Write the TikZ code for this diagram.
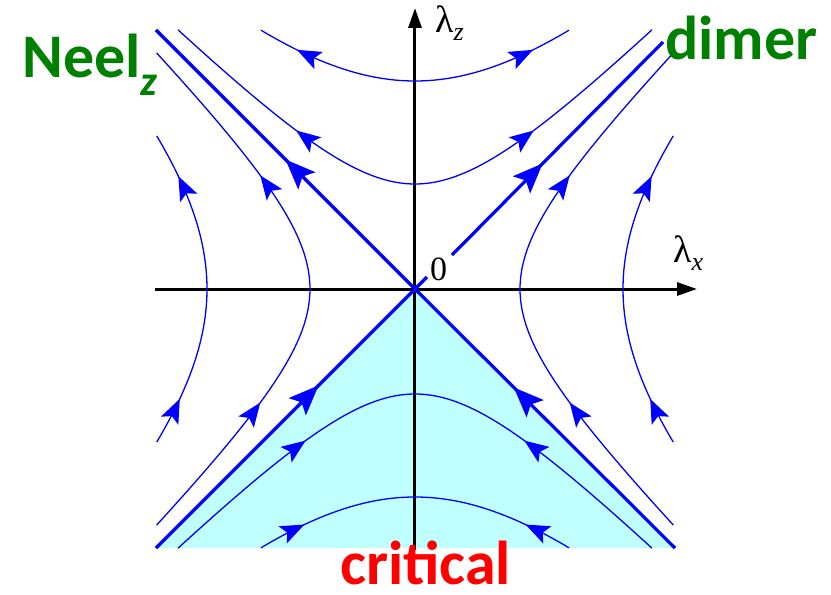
\documentclass[tikz,border=0pt]{standalone}
\usepackage{fontspec}
\newfontfamily\phasefont{Carlito}
\newfontfamily\symbolfont{Liberation Serif}
\usepackage{tikz}
\usetikzlibrary{arrows.meta, decorations.markings}
\definecolor{flowblue}{RGB}{0,0,255}
\definecolor{phasegreen}{RGB}{0,128,0}
\definecolor{critred}{RGB}{255,0,0}
\definecolor{critcyan}{RGB}{192,255,255}
\tikzset{
  % Axes and flow lines
  axisline/.style={line width=3pt, -{Triangle[length=20pt, width=13pt]}},
  flow/.style={draw=flowblue, line width=1.3pt},
  separatrix/.style={draw=flowblue, line width=3.2pt},
  flowtip/.style={postaction={decorate}, decoration={markings,
      mark=at position #1 with {\arrow[flowblue]{Stealth[length=24pt, width=19pt, inset=5pt]}}}},
  flowtips/.style 2 args={postaction={decorate}, decoration={markings,
      mark=at position #1 with {\arrow[flowblue]{Stealth[length=24pt, width=19pt, inset=5pt]}},
      mark=at position #2 with {\arrow[flowblue]{Stealth[length=24pt, width=19pt, inset=5pt]}}}},
  septip/.style={postaction={decorate}, decoration={markings,
      mark=at position #1 with {\arrow[flowblue]{Stealth[length=30pt, width=24pt, inset=6pt]}}}},
  % Labels
  phase/.style={font=\phasefont\bfseries\fontsize{62}{62}\selectfont, anchor=base west, inner sep=0pt},
  axislabel/.style={font=\symbolfont\fontsize{38}{38}\selectfont, anchor=base west, inner sep=0pt},
}

\begin{document}
\begin{tikzpicture}[x=10pt, y=10pt]
    \useasboundingbox (-41.5,-30.6) rectangle (41.6,28.9);

    % Corners of the flow diagram
    \coordinate (O) at (0,0);
    \coordinate (ll) at (-25.9,-25.9);
    \coordinate (lr) at (26,-25.9);
    \coordinate (ul) at (-25.9,25.9);
    \coordinate (urstart) at (3.7,3.4);
    \coordinate (ur) at (24.8,24.7);
    \coordinate (llend) at (1.2,1.2);

    % Critical region
    \fill[critcyan] (O) -- (ll) -- (lr) -- cycle;

    % Axes
    \coordinate (xmin) at (-26,0);
    \coordinate (xmax) at (28.2,0);
    \coordinate (zmin) at (0,-26.1);
    \coordinate (zmax) at (0,28.1);
    \draw[axisline] (xmin) -- (xmax);
    \draw[axisline] (zmin) -- (zmax);

    % Separatrices
    \draw[separatrix, septip=0.5] (O) -- (ul);
    \draw[separatrix, septip=0.43] (urstart) -- (ur);
    \draw[separatrix, septip=0.6] (ll) -- (llend);
    \draw[separatrix, septip=0.62] (lr) -- (O);

    % Upper and lower branches
    \foreach \a/\xm/\pu/\pl in {10.5/23.7/0.46/0.58, 20.8/15.4/0.75/0.30} {
      \draw[flow, flowtip=\pu] plot[domain=0:\xm, samples=50] (\x, {sqrt(\x*\x+\a*\a)});
      \draw[flow, flowtip=\pu] plot[domain=0:-\xm, samples=50] (\x, {sqrt(\x*\x+\a*\a)});
      \draw[flow, flowtip=\pl] plot[domain=-\xm:0, samples=50] (\x, {-sqrt(\x*\x+\a*\a)});
      \draw[flow, flowtip=\pl] plot[domain=\xm:0, samples=50] (\x, {-sqrt(\x*\x+\a*\a)});
    }

    % Side branches
    \foreach \a/\zm/\pa/\pb in {10.5/23.6/0.28/0.72, 20.8/15.3/0.15/0.86} {
      \draw[flow, flowtips={\pa}{\pb}] plot[domain=-\zm:\zm, samples=60, variable=\t] ({-sqrt(\t*\t+\a*\a)}, \t);
      \draw[flow, flowtips={\pa}{\pb}] plot[domain=-\zm:\zm, samples=60, variable=\t] ({sqrt(\t*\t+\a*\a)}, \t);
    }

    % Axis labels
    \node[axislabel] (lz) at (2.0,25.6) {λ\raisebox{-8pt}{\fontsize{26}{26}\selectfont\itshape z}};
    \node[axislabel] (lx) at (25.8,2.7) {λ\raisebox{-8pt}{\fontsize{26}{26}\selectfont\itshape x}};
    \node[axislabel, font=\symbolfont\fontsize{34}{34}\selectfont] (zero) at (1.5,0.9) {0};

    % Phases
    \node[phase, text=phasegreen] (neel) at (-39.3,21.1) {Neel\raisebox{-17pt}{\fontsize{42}{42}\selectfont\itshape z}};
    \node[phase, text=phasegreen] (dimer) at (25,22.9) {dimer};
    \node[phase, text=critred] (critical) at (-7.5,-29.5) {critical};
\end{tikzpicture}
\end{document}
